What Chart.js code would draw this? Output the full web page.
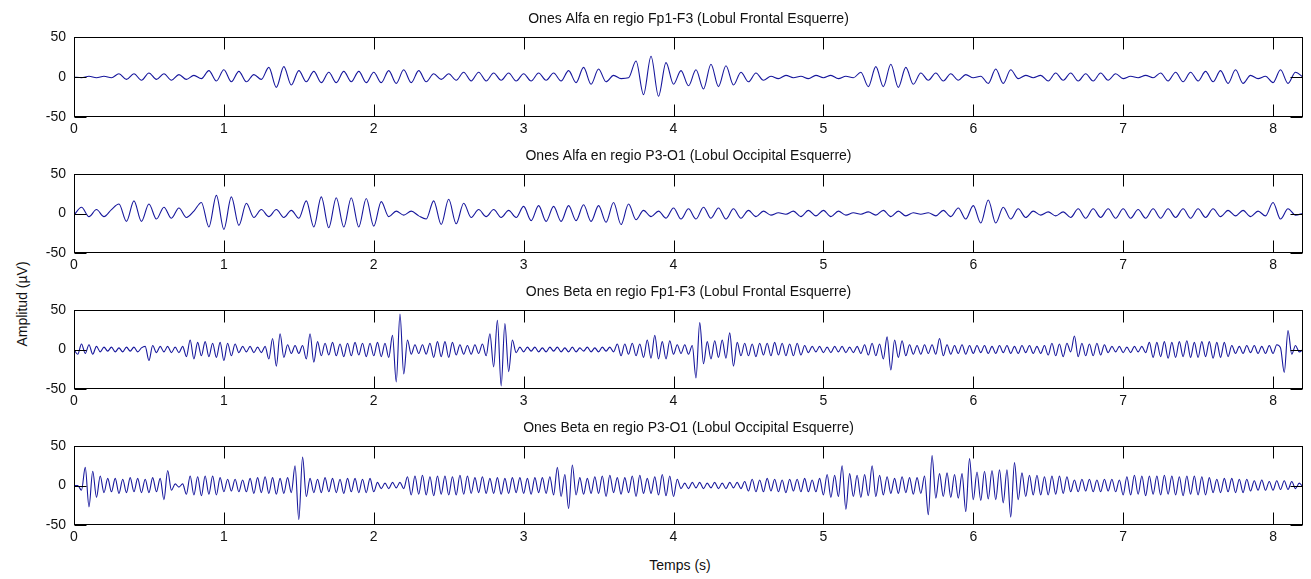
<!DOCTYPE html>
<html>
<head>
<meta charset="utf-8">
<script src="https://cdn.jsdelivr.net/npm/chart.js@4.4.1/dist/chart.umd.min.js"></script>
<style>
  html, body { margin: 0; padding: 0; background: #fff; }
  #fig { position: relative; width: 1311px; height: 579px; overflow: hidden; background: #fff; }
  .panel { position: absolute; left: 0; width: 1311px; }
  .panel canvas { display: block; }
  .axis-label { position: absolute; font: 14px "Liberation Sans", Arial, sans-serif; color: #111; white-space: nowrap; }
  #ylabel { left: 22px; top: 304px; transform: translate(-50%, -50%) rotate(-90deg); }
  #xlabel { left: 680px; top: 565px; transform: translate(-50%, -50%); }
</style>
</head>
<body>
<div id="fig">
  <div class="axis-label" id="ylabel">Amplitud (µV)</div>
  <div class="axis-label" id="xlabel">Temps (s)</div>
</div>
<script>
// Sampling steps of the stored traces (seconds per sample)
const ALFA_STEP = 0.05;
const BETA_STEP = 0.025;

// Axis ticks
const xTicks = [0, 1, 2, 3, 4, 5, 6, 7, 8];
const yTicks = [-50, 0, 50];
const xMax = 8.2;

const titles = [
  'Ones Alfa en regio Fp1-F3 (Lobul Frontal Esquerre)',
  'Ones Alfa en regio P3-O1 (Lobul Occipital Esquerre)',
  'Ones Beta en regio Fp1-F3 (Lobul Frontal Esquerre)',
  'Ones Beta en regio P3-O1 (Lobul Occipital Esquerre)'
];

// Alpha band, Fp1-F3 (µV)
const alfaFp1F3 = [
  0, -1, 1, -1, 1, -1,
  4, -3, 4, -4, 5, -3, 4, -4, 3, -3,
  2, -2,
  8, -5, 9, -6, 7, -6,
  3, -3,
  12, -13, 13, -10, 8,
  -6, 7, -7, 6, -7, 7, -6, 7, -7, 6,
  -7, 8, -8, 9, -7, 8, -6,
  4, -3, 4, -4,
  6, -5, 6,
  -5, 5, -4, 5, -5, 4, -5, 5, -4, 5, -5,
  8, -7, 12, -9, 10, -6,
  2, -2, -1, 20, -22, 26, -24, 18, -9,
  8, -11, 9, -15, 16, -12, 14, -10, 6, -6, 5, -4,
  1, -2, 2, -1, 1, -2, 2, -1, 2, -2, 1, -1,
  6, -12, 13, -12, 16, -13, 12, -9,
  5, -4, 5, -5, 4, -4, 3,
  -1, 1,
  -8, 10, -8, 9,
  -2, 2, -1, 2,
  -5, 5, -4, 5, -5, 4, -5, 5, -4, 4,
  -2, 1, -1, 2, -1,
  5, -5, 6, -6, 6, -5, 7, -6, 8, -8, 9, -8,
  2, -2, 1,
  -7, 9, -8, 6,
  0
];

// Alpha band, P3-O1 (µV)
const alfaP3O1 = [
  -2, 8,
  -4, 5, -4, 5,
  12, -10, 16, -10, 12, -7,
  8, -6, 7, -5, 3,
  14, -17, 23, -20, 21, -15, 13, -5,
  5, -4, 5, -5, 4,
  -6, 16, -17, 21, -18, 20, -17, 20, -17, 19, -16, 15, -4,
  3, -2, 3, -3,
  -7, 16, -14, 18, -13, 13,
  -5, 5, -4, 5, -5, 4, -5,
  9, -9, 10, -10, 9, -10, 10, -9, 11, -10, 10, -11,
  14, -14, 12, -8,
  4, -4, 3,
  -6, 7, -7, 6, -7, 8, -6, 7, -7, 6, -6,
  4, -4, 3, -2, 1, -1, 3, -4, 4, -3, 4, -4, 3, -2, 1, -1, 2, -2,
  4, -4, 3, -3, 1, -1, 1, -3, 4, -4,
  7, -7, 10, -12,
  17, -12, 8, -7, 6, -5,
  3, -2, 2, -3, 2,
  -5, 6, -6, 6, -5, 6, -6, 6, -6, 5, -6, 6, -6, 6, -5, 6, -6, 6, -5, 6,
  -4, 4, -3, 4, -4, 3, -3,
  14, -7, 6, -2,
  0
];

// Beta band, Fp1-F3 (µV), one row per half second
const betaFp1F3 = [
  0, -6, 7, -5, 6, -6, 4, -3, 3, -2, 3, -3, 2, -3, 3, -2, 3, -3, 2, 4,
  -14, 5, -4, 4, -3, 4, -4, 3, -4, 4, -9, 12, -12, 9, -8, 10, -9, 8, -10, 9,
  -14, 8, -8, 7, -4, 4, -3, 4, -4, 3, -4, 4, -12, 14, -21, 20, -10, 6, -5, 5,
  -5, 5, -12, 20, -16, 10, -8, 8, -7, 9, -8, 7, -9, 8, -8, 9, -7, 8, -9, 8,
  -8, 9, -9, 8, -10, 18, -41, 45, -31, 12, -6, 6, -5, 6, -6, 8, -10, 10, -9, 10,
  -10, 9, -7, 6, -6, 5, -6, 6, -5, 7, -8, 20, -22, 37, -46, 33, -28, 12, -4, 3,
  -3, 3, -2, 3, -3, 2, -3, 3, -2, 3, -3, 2, -3, 3, -3, 2, -2, 3, -3, 2,
  -3, 3, -2, 3, -3, 7, -8, 7, -6, 8, -8, 7, -10, 12, -11, 18, -12, 10, -12, 11,
  -6, 6, -5, 6, -6, 5, -36, 34, -18, 10, -12, 11, -10, 12, -11, 21, -21, 9, -8, 8,
  -8, 7, -9, 8, -7, 8, -8, 9, -7, 8, -8, 7, -8, 8, -7, 5, -4, 4, -3, 4,
  -4, 3, -4, 4, -3, 4, -4, 3, -4, 4, -5, 6, -7, 8, -8, 7, -12, 16, -26, 12,
  -10, 11, -8, 6, -6, 5, -6, 6, -5, 6, -6, 14, -8, 6, -6, 5, -5, 6, -6, 5,
  -5, 5, -4, 5, -5, 4, -5, 5, -4, 5, -5, 4, -5, 5, -4, 5, -5, 4, -5, 5,
  -7, 8, -8, 7, -9, 8, -3, 17, -9, 8, -8, 7, -8, 8, -7, 6, -4, 4, -3, 4,
  -4, 3, -4, 4, -3, 4, -4, 9, -10, 9, -9, 10, -11, 9, -10, 10, -9, 11, -10, 9,
  -10, 10, -9, 10, -11, 9, -10, 9, -9, 5, -5, 4, -5, 5, -4, 5, -5, 4, -5, 5,
  -5, 6, 2, -29, 24, -6, 5, -3, 0
];

// Beta band, P3-O1 (µV), one row per half second
const betaP3O1 = [
  0, 0, -6, 23, -27, 18, -15, 12, -9, 9, -8, 9, -10, 8, -9, 10, -8, 9, -9, 8,
  -9, 10, -8, 9, -18, 19, -6, 2, -2, 2, -11, 12, -12, 11, -13, 12, -11, 12, -12, 10,
  -8, 8, -7, 8, -8, 7, -8, 9, -10, 10, -9, 11, -10, 10, -11, 9, -10, 10, -9, 25,
  -43, 36, -14, 9, -9, 8, -9, 10, -8, 9, -9, 8, -10, 9, -8, 9, -9, 8, -9, 9,
  -8, 4, -4, 3, -4, 4, -3, 4, -4, 11, -12, 12, -11, 13, -12, 11, -13, 12, -11, 12,
  -12, 11, -12, 13, -11, 12, -10, 10, -9, 11, -10, 9, -10, 10, -11, 9, -10, 10, -9, 10,
  -10, 9, -11, 10, -9, 10, -10, 11, -12, 23, -14, 14, -29, 26, -12, 10, -11, 9, -10, 11,
  -10, 12, -14, 13, -9, 10, -11, 10, -9, 12, -14, 13, -10, 9, -10, 11, -12, 14, -13, 12,
  -14, 8, -4, 3, -4, 4, -3, 4, -4, 3, -3, 4, -4, 3, -4, 4, -3, 4, -4, 5,
  -7, 8, -8, 7, -8, 9, -7, 8, -8, 7, -9, 8, -7, 8, -8, 9, -8, 7, -8, 9,
  -12, 14, -15, 13, -14, 25, -30, 15, -14, 13, -15, 14, -13, 25, -14, 13, -12, 11, -10, 9,
  -10, 11, -9, 10, -11, 10, -10, 12, -37, 38, -16, 15, -14, 16, -15, 14, -16, 15, -33, 34,
  -18, 17, -19, 18, -17, 19, -18, 20, -22, 20, -40, 29, -18, 16, -14, 13, -12, 13, -12, 11,
  -12, 12, -11, 12, -10, 11, -8, 7, -8, 8, -7, 8, -8, 7, -8, 8, -7, 8, -8, 7,
  -12, 11, -12, 13, -11, 12, -13, 12, -11, 12, -12, 13, -11, 12, -12, 11, -13, 12, -11, 12,
  -12, 11, -12, 10, -9, 8, -9, 9, -8, 9, -9, 8, -9, 8, -7, 6, -6, 7, -6, 5,
  -6, 6, -5, 6, -5, 5, -4, 3, -2
];

// Layout of the four stacked axes (page pixels)
const panels = [
  { title: titles[0], values: alfaFp1F3, step: ALFA_STEP, top: 37,  bottom: 117 },
  { title: titles[1], values: alfaP3O1,  step: ALFA_STEP, top: 174, bottom: 253 },
  { title: titles[2], values: betaFp1F3, step: BETA_STEP, top: 310, bottom: 389 },
  { title: titles[3], values: betaP3O1,  step: BETA_STEP, top: 446, bottom: 525 }
];

const FONT = '"Liberation Sans", Arial, sans-serif';
const TEXT = '#111';
const LINE = '#16169c';
const TICK_LEN = 12;
const TITLE_H = 30;   // 4 + 16 + 10
const XAXIS_H = 28;
const YAXIS_W = 74;
const RIGHT_PAD = 8;

// Frame and inward tick marks drawn on top of each trace
const framePlugin = {
  id: 'frame',
  afterDatasetsDraw(chart) {
    const { ctx, chartArea: a, scales: { x, y } } = chart;
    const L = Math.round(a.left) + 0.5, R = Math.round(a.right) - 0.5;
    const T = Math.round(a.top) + 0.5, B = Math.round(a.bottom) - 0.5;
    ctx.save();
    ctx.strokeStyle = '#000';
    ctx.lineWidth = 1;
    ctx.beginPath();
    xTicks.forEach(v => {
      const px = Math.round(x.getPixelForValue(v)) + 0.5;
      ctx.moveTo(px, B); ctx.lineTo(px, B - TICK_LEN);
      ctx.moveTo(px, T); ctx.lineTo(px, T + TICK_LEN);
    });
    yTicks.forEach(v => {
      const py = Math.round(y.getPixelForValue(v)) + 0.5;
      ctx.moveTo(L, py); ctx.lineTo(L + TICK_LEN, py);
      ctx.moveTo(R, py); ctx.lineTo(R - TICK_LEN, py);
    });
    ctx.stroke();
    ctx.strokeRect(L, T, R - L, B - T);
    ctx.restore();
  }
};

const fig = document.getElementById('fig');

panels.forEach(p => {
  const plotH = p.bottom - p.top;
  const H = TITLE_H + plotH + XAXIS_H;
  const holder = document.createElement('div');
  holder.className = 'panel';
  holder.style.top = (p.top - TITLE_H) + 'px';
  holder.style.height = H + 'px';
  const canvas = document.createElement('canvas');
  canvas.width = 1311;
  canvas.height = H;
  canvas.style.width = '1311px';
  canvas.style.height = H + 'px';
  holder.appendChild(canvas);
  fig.appendChild(holder);

  const points = p.values.map((v, i) => ({ x: i * p.step, y: v }));

  const chart = new Chart(canvas, {
    type: 'line',
    data: {
      datasets: [{
        data: points,
        borderColor: LINE,
        borderWidth: 1.1,
        pointRadius: 0,
        fill: false,
        cubicInterpolationMode: 'monotone'
      }]
    },
    options: {
      responsive: false,
      animation: false,
      devicePixelRatio: 1,
      events: [],
      layout: { padding: { left: 0, right: RIGHT_PAD, top: 0, bottom: 0 } },
      plugins: {
        legend: { display: false },
        tooltip: { enabled: false },
        title: {
          display: true,
          text: p.title,
          fullSize: false,
          color: TEXT,
          font: { family: FONT, size: 14, weight: 'normal', lineHeight: '16px' },
          padding: { top: 4, bottom: 10 }
        }
      },
      scales: {
        x: {
          type: 'linear',
          min: 0,
          max: xMax,
          grid: { display: false, drawTicks: false },
          border: { display: false },
          afterBuildTicks(scale) { scale.ticks = xTicks.map(v => ({ value: v })); },
          afterFit(scale) { scale.height = XAXIS_H; },
          ticks: {
            color: TEXT,
            font: { family: FONT, size: 14 },
            padding: 4,
            maxRotation: 0,
            autoSkip: false,
            callback: v => String(v)
          }
        },
        y: {
          min: -50,
          max: 50,
          grid: { display: false, drawTicks: false },
          border: { display: false },
          afterBuildTicks(scale) { scale.ticks = yTicks.map(v => ({ value: v })); },
          afterFit(scale) { scale.width = YAXIS_W; },
          ticks: {
            color: TEXT,
            font: { family: FONT, size: 14 },
            padding: 8,
            callback: v => String(v)
          }
        }
      }
    },
    plugins: [framePlugin]
  });

  // keep the plot box on its intended page row
  const shift = Math.round(p.top - chart.chartArea.top);
  holder.style.top = shift + 'px';
});
</script>
</body>
</html>
